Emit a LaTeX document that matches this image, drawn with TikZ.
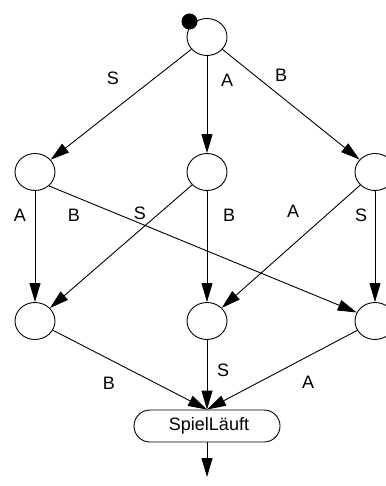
\documentclass[tikz,border=0pt]{standalone}
\usepackage{fontspec}
\setmainfont{Liberation Sans}
\usetikzlibrary{arrows.meta,shapes.geometric,shapes.misc}
\begin{document}
\begin{tikzpicture}[x=1pt,y=-1pt,
  state/.style={draw,ellipse,line width=0.9pt,minimum width=40pt,minimum height=37pt,inner sep=0pt},
  conn/.style={draw,line width=0.9pt,-{Triangle[length=19pt,width=11pt]}},
  lbl/.style={font=\fontsize{18}{20}\selectfont,inner sep=0pt},
  final/.style={draw,rounded rectangle,line width=0.9pt,minimum width=146pt,minimum height=32pt,inner sep=0pt,font=\fontsize{18}{20}\selectfont}]
\useasboundingbox (0,0) rectangle (385,486);
\node[state] (top) at (207,37) {};
\node[fill=black,circle,minimum size=16pt,inner sep=0pt] (dot) at (189.5,21.5) {};
\node[state] (ml) at (35,172) {};
\node[state] (mm) at (207,172) {};
\node[state] (mr) at (375,172) {};
\node[state] (bl) at (35,321) {};
\node[state] (bm) at (207,321) {};
\node[state] (br) at (375,321) {};
\node[final] (spiel) at (207,426) {\hspace*{4pt}SpielLäuft};
\coordinate (out) at (207,477);
\draw[conn] (top) -- (ml);
\draw[conn] (top) -- (mm);
\draw[conn] (top) -- (mr);
\draw[conn] (ml) -- (bl);
\draw[conn] (ml.-45) -- (br.155);
\draw[conn] (mm) -- (bl);
\draw[conn] (mm) -- (bm);
\draw[conn] (mr) -- (bm);
\draw[conn] (mr) -- (br);
\draw[conn] (bl) -- (spiel.north);
\draw[conn] (bm) -- (spiel.north);
\draw[conn] (br) -- (spiel.north);
\draw[conn] (spiel) -- (out);
\node[lbl] (l1) at (113,78) {S};
\node[lbl] (l2) at (227,80) {A};
\node[lbl] (l3) at (281,75) {B};
\node[lbl] (l4) at (20,215) {A};
\node[lbl] (l5) at (74,215) {B};
\node[lbl] (l6) at (140,213) {S};
\node[lbl] (l7) at (229,215) {B};
\node[lbl] (l8) at (293,211) {A};
\node[lbl] (l9) at (361,215) {S};
\node[lbl] (l10) at (109,383) {B};
\node[lbl] (l11) at (223,370) {S};
\node[lbl] (l12) at (308,382) {A};
\end{tikzpicture}
\end{document}
